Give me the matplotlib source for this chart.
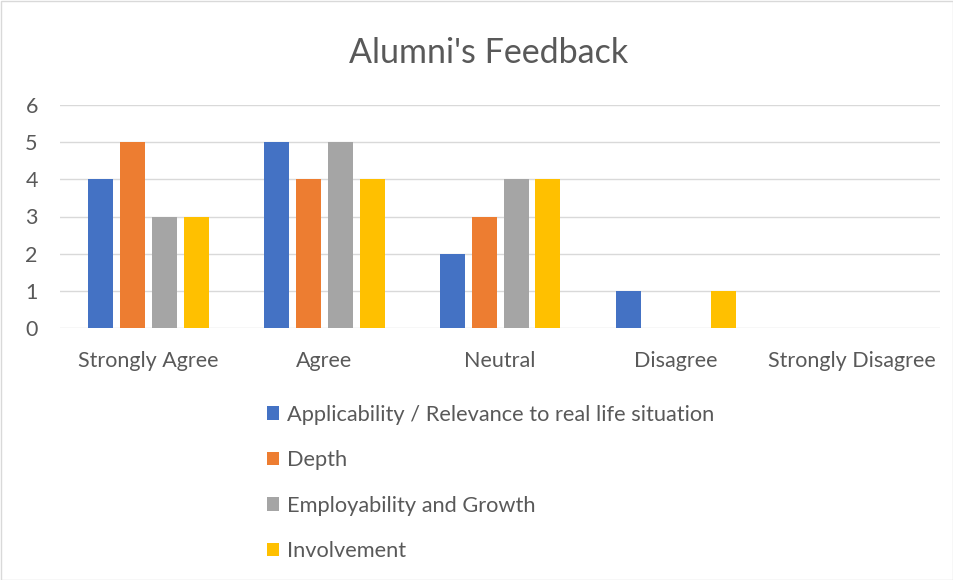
import matplotlib
matplotlib.use("Agg")
import matplotlib.pyplot as plt
import numpy as np

categories = ["Strongly Agree", "Agree", "Neutral", "Disagree", "Strongly Disagree"]
series_names = ["Applicability / Relevance to real life situation", "Depth",
                "Employability and Growth", "Involvement"]
applicability = [4, 5, 2, 1, 0]
depth = [5, 4, 3, 0, 0]
employability = [3, 5, 4, 0, 0]
involvement = [3, 4, 4, 1, 0]
colors = ["#4472C4", "#ED7D31", "#A5A5A5", "#FFC000"]
yticks = [0, 1, 2, 3, 4, 5, 6]

plt.rcParams['font.family'] = ['Lato', 'DejaVu Sans']
txt = "#595959"

fig = plt.figure(figsize=(9.54, 5.8), dpi=100)
fig.patch.set_facecolor("white")
ax = fig.add_axes([60/954, 1-328/580, 880/954, 223/580])

x = np.arange(len(categories))
w = 25/176
step = 32/176
data = [applicability, depth, employability, involvement]
handles = []
for i, (vals, c, name) in enumerate(zip(data, colors, series_names)):
    b = ax.bar(x + (i - 1.5) * step, vals, width=w, color=c, label=name, zorder=3)
    handles.append(b)

ax.set_xlim(-0.5, len(categories) - 0.5)
ax.set_ylim(0, 6)
ax.set_yticks(yticks)
ax.set_xticks(x)
ax.set_xticklabels(categories)
ax.tick_params(axis='both', length=0, labelsize=15.5, colors=txt)
ax.tick_params(axis='x', pad=16.5)
ax.tick_params(axis='y', pad=16)
ax.grid(axis='y', color="#D9D9D9", linewidth=1, zorder=0)
for s in ax.spines.values():
    s.set_visible(False)

fig.text(489/954, 1-53/580, "Alumni's Feedback", ha='center', va='center',
         fontsize=24.5, color=txt)

leg = fig.legend(handles=handles, labels=series_names, loc='upper left',
                 bbox_to_anchor=(258/954, 1-396/580), frameon=False,
                 fontsize=15.7, labelcolor=txt, handlelength=0.55, handleheight=0.55,
                 handletextpad=0.36, labelspacing=1.17, borderaxespad=0)

fig.add_artist(plt.Rectangle((0.5/954, 0.5/580), 1-1/954, 1-1/580, transform=fig.transFigure,
                             fill=False, edgecolor="#D9D9D9", linewidth=1))

fig.savefig("out.png", dpi=100)
